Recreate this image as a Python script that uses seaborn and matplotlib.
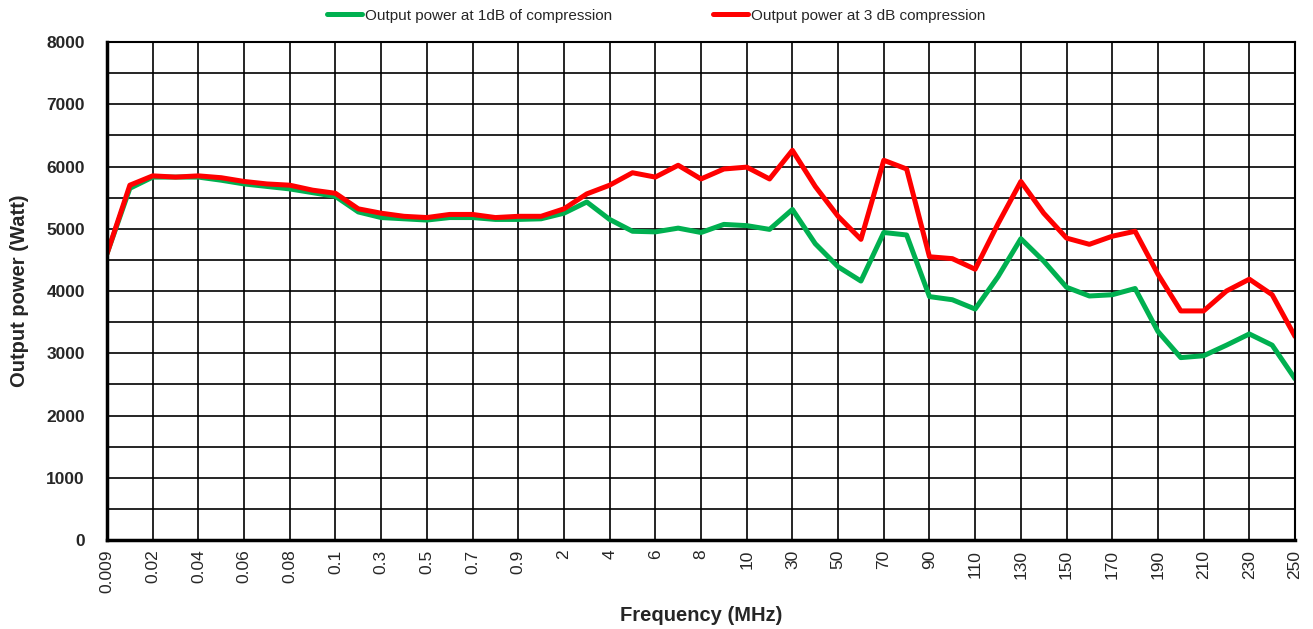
import matplotlib
matplotlib.use("Agg")
import matplotlib.pyplot as plt
from matplotlib.ticker import MultipleLocator
import seaborn as sns
import pandas as pd

# frequency categories (MHz), evenly spaced on the x axis
freqs = ["0.009", "0.01", "0.02", "0.03", "0.04", "0.05", "0.06", "0.07", "0.08", "0.09",
         "0.1", "0.2", "0.3", "0.4", "0.5", "0.6", "0.7", "0.8", "0.9", "1",
         "2", "3", "4", "5", "6", "7", "8", "9", "10", "20",
         "30", "40", "50", "60", "70", "80", "90", "100", "110", "120",
         "130", "140", "150", "160", "170", "180", "190", "200", "210", "220",
         "230", "240", "250"]

p1db = [4600, 5650, 5830, 5830, 5830, 5780, 5720, 5680, 5640, 5580,
        5520, 5270, 5180, 5160, 5140, 5180, 5180, 5150, 5150, 5160,
        5250, 5430, 5150, 4960, 4950, 5010, 4940, 5070, 5050, 4990,
        5310, 4760, 4390, 4160, 4940, 4900, 3910, 3860, 3710, 4230,
        4840, 4480, 4060, 3920, 3940, 4040, 3350, 2930, 2960, 3130,
        3310, 3130, 2590]

p3db = [4600, 5700, 5850, 5830, 5850, 5820, 5760, 5720, 5700, 5620,
        5570, 5320, 5250, 5200, 5180, 5230, 5230, 5180, 5200, 5200,
        5320, 5560, 5700, 5900, 5830, 6020, 5800, 5960, 5990, 5800,
        6260, 5680, 5200, 4830, 6100, 5960, 4550, 4520, 4350, 5080,
        5760, 5250, 4850, 4750, 4880, 4960, 4270, 3680, 3680, 4000,
        4190, 3940, 3270]

df = pd.DataFrame({"pos": range(len(freqs)), "p1db": p1db, "p3db": p3db})

sns.set_style("white")
plt.rcParams["font.family"] = ["Liberation Sans Narrow", "Liberation Sans", "DejaVu Sans"]

fig = plt.figure(figsize=(13.13, 6.29), dpi=100)
ax = fig.add_axes([0.0815, 0.1415, 0.9048, 0.7917])

sns.lineplot(data=df, x="pos", y="p1db", ax=ax, color="#00B050", linewidth=3.6,
             label="Output power at 1dB of compression")
sns.lineplot(data=df, x="pos", y="p3db", ax=ax, color="#FF0000", linewidth=3.6,
             label="Output power at 3 dB compression")

ax.set_xlim(0, len(freqs) - 1)
ax.set_ylim(0, 8000)
ax.set_xticks(range(0, len(freqs), 2))
ax.set_xticklabels(freqs[::2], rotation=90, fontsize=12.5, family=["Liberation Sans", "DejaVu Sans"])
ax.yaxis.set_major_locator(MultipleLocator(1000))
ax.yaxis.set_minor_locator(MultipleLocator(500))
for lbl in ax.get_yticklabels():
    lbl.set_fontweight("bold")
    lbl.set_fontsize(12.5)

ax.grid(True, which="major", axis="x", color="black", linewidth=1.2)
ax.grid(True, which="both", axis="y", color="black", linewidth=1.2)
ax.set_axisbelow(True)
for s in ax.spines.values():
    s.set_color("black")
    s.set_linewidth(1.5)
ax.spines["left"].set_linewidth(2.5)
ax.spines["bottom"].set_linewidth(2.5)
ax.tick_params(axis="x", which="both", length=0, pad=7)
ax.tick_params(axis="y", which="both", length=0, pad=16)

ax.set_xlabel("Frequency (MHz)", fontsize=14.5, fontweight="bold", labelpad=9)
ax.set_ylabel("Output power (Watt)", fontsize=14.5, fontweight="bold", labelpad=12)

handles, labels = ax.get_legend_handles_labels()
ax.get_legend().remove()
fig.legend(handles, labels, loc="upper center", bbox_to_anchor=(0.5, 1.008), ncol=2,
           frameon=False, fontsize=11, handlelength=2.3, handletextpad=0.2,
           columnspacing=6.6)

fig.savefig("out.png", dpi=100)
